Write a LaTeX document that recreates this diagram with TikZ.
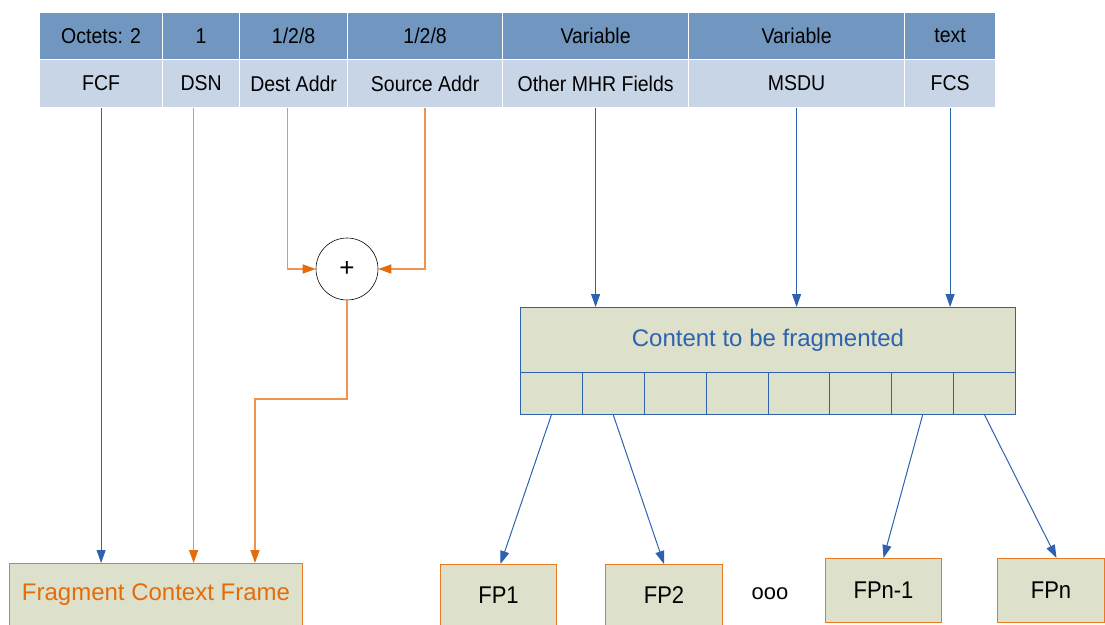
\documentclass[tikz,border=0pt]{standalone}
\usepackage{fontspec}
\usepackage{graphicx}
\setmainfont{Liberation Sans}
\usetikzlibrary{arrows.meta}
\definecolor{hdrdark}{HTML}{7196C0}
\definecolor{hdrlight}{HTML}{C8D5E6}
\definecolor{lblue}{HTML}{2E62AE}
\definecolor{lorange}{HTML}{EE9450}
\definecolor{dorange}{HTML}{E46C0A}
\definecolor{boxfill}{HTML}{DDE1CB}
\newcommand{\vst}[1]{\scalebox{1}[1.1]{#1}}
\begin{document}
\begin{tikzpicture}[x=1pt,y=-1pt,
  cell/.style={draw=white, line width=1.2pt, anchor=north west, inner sep=0pt, font=\fontsize{19.5}{22}\selectfont},
  hcell/.style={cell, fill=hdrdark, minimum height=47pt},
  bcell/.style={cell, fill=hdrlight, minimum height=48pt},
  barrow/.style={draw=lblue, line width=1pt, -{Triangle[length=13pt,width=9pt,color=lblue]}},
  oarrow/.style={draw=lorange, line width=1.5pt, -{Triangle[length=13pt,width=9pt,color=dorange]}},
  fbox/.style={draw=dorange!90, fill=boxfill, line width=1pt, anchor=north west, inner sep=0pt, font=\fontsize{22}{24}\selectfont},
  fcell/.style={draw=lblue, fill=boxfill, line width=0.9pt, anchor=north west, inner sep=0pt, minimum width=61.875pt, minimum height=42pt},
]
\useasboundingbox (0,0) rectangle (1105,624);
% table header
\node[hcell, minimum width=123pt] (h1) at (39,12) {\vst{Octets: 2}};
\node[hcell, minimum width=77pt]  (h2) at (162,12) {\vst{1}};
\node[hcell, minimum width=108pt] (h3) at (239,12) {\vst{1/2/8}};
\node[hcell, minimum width=155pt] (h4) at (347,12) {\vst{1/2/8}};
\node[hcell, minimum width=186pt] (h5) at (502,12) {\vst{Variable}};
\node[hcell, minimum width=216pt] (h6) at (688,12) {\vst{Variable}};
\node[hcell, minimum width=91pt]  (h7) at (904,12) {\vst{text}};
\node[bcell, minimum width=123pt] (b1) at (39,59) {\vst{FCF}};
\node[bcell, minimum width=77pt]  (b2) at (162,59) {\vst{DSN}};
\node[bcell, minimum width=108pt] (b3) at (239,59) {\vst{Dest Addr}};
\node[bcell, minimum width=155pt] (b4) at (347,59) {\vst{Source Addr}};
\node[bcell, minimum width=186pt] (b5) at (502,59) {\vst{Other MHR Fields}};
\node[bcell, minimum width=216pt] (b6) at (688,59) {\vst{MSDU}};
\node[bcell, minimum width=91pt]  (b7) at (904,59) {\vst{FCS}};
% plus
\node[circle, draw=black, line width=0.6pt, minimum size=62pt, inner sep=0pt, font=\fontsize{26}{28}\selectfont] (plus) at (347,269) {+};
% content box
\node[draw=lblue, fill=boxfill, line width=0.9pt, anchor=north west, inner sep=0pt, minimum width=495pt, minimum height=65pt, text=lblue, font=\fontsize{24}{26}\selectfont] (cont) at (520,307) {Content to be fragmented};
\foreach \i in {1,...,8} {
  \node[fcell] (c\i) at ({520+(\i-1)*61.875},372) {};
}
% bottom boxes
\node[fbox, minimum width=293pt, minimum height=63pt, text=dorange, font=\fontsize{24}{26}\selectfont] (frame) at (9,563) {Fragment Context Frame};
\node[fbox, minimum width=116pt, minimum height=62pt] (fp1) at (440,564) {\vst{FP1}};
\node[fbox, minimum width=117pt, minimum height=62pt] (fp2) at (605,564) {\vst{FP2}};
\node[fbox, minimum width=116pt, minimum height=64pt] (fpn1) at (825,558) {\vst{FPn-1}};
\node[fbox, minimum width=107pt, minimum height=64pt] (fpn) at (997,558) {\vst{FPn}};
\node[font=\fontsize{22}{24}\selectfont] (dots) at (770,594) {ooo};
% connectors
\draw[barrow] (b1.south) -- (b1.south |- frame.north);
\draw[oarrow] ([xshift=-7.5pt]b2.south) -- ([xshift=-7.5pt]b2.south |- frame.north);
\draw[oarrow] ([xshift=-6pt]b3.south) |- (plus.west);
\draw[oarrow] (b4.south) |- (plus.east);
\coordinate (fin) at (255,399);
\draw[oarrow] (plus.south) |- (fin) -- (fin |- frame.north);
\draw[barrow] (b5.south) -- (b5.south |- cont.north);
\draw[barrow] (b6.south) -- (b6.south |- cont.north);
\draw[barrow] (b7.south) -- (b7.south |- cont.north);
\draw[barrow] (c1.south) -- ([xshift=2pt]fp1.north);
\draw[barrow] (c2.south) -- (fp2.north);
\draw[barrow] (c7.south) -- (fpn1.north);
\draw[barrow] (c8.south) -- ([xshift=5.5pt]fpn.north);
\end{tikzpicture}
\end{document}
